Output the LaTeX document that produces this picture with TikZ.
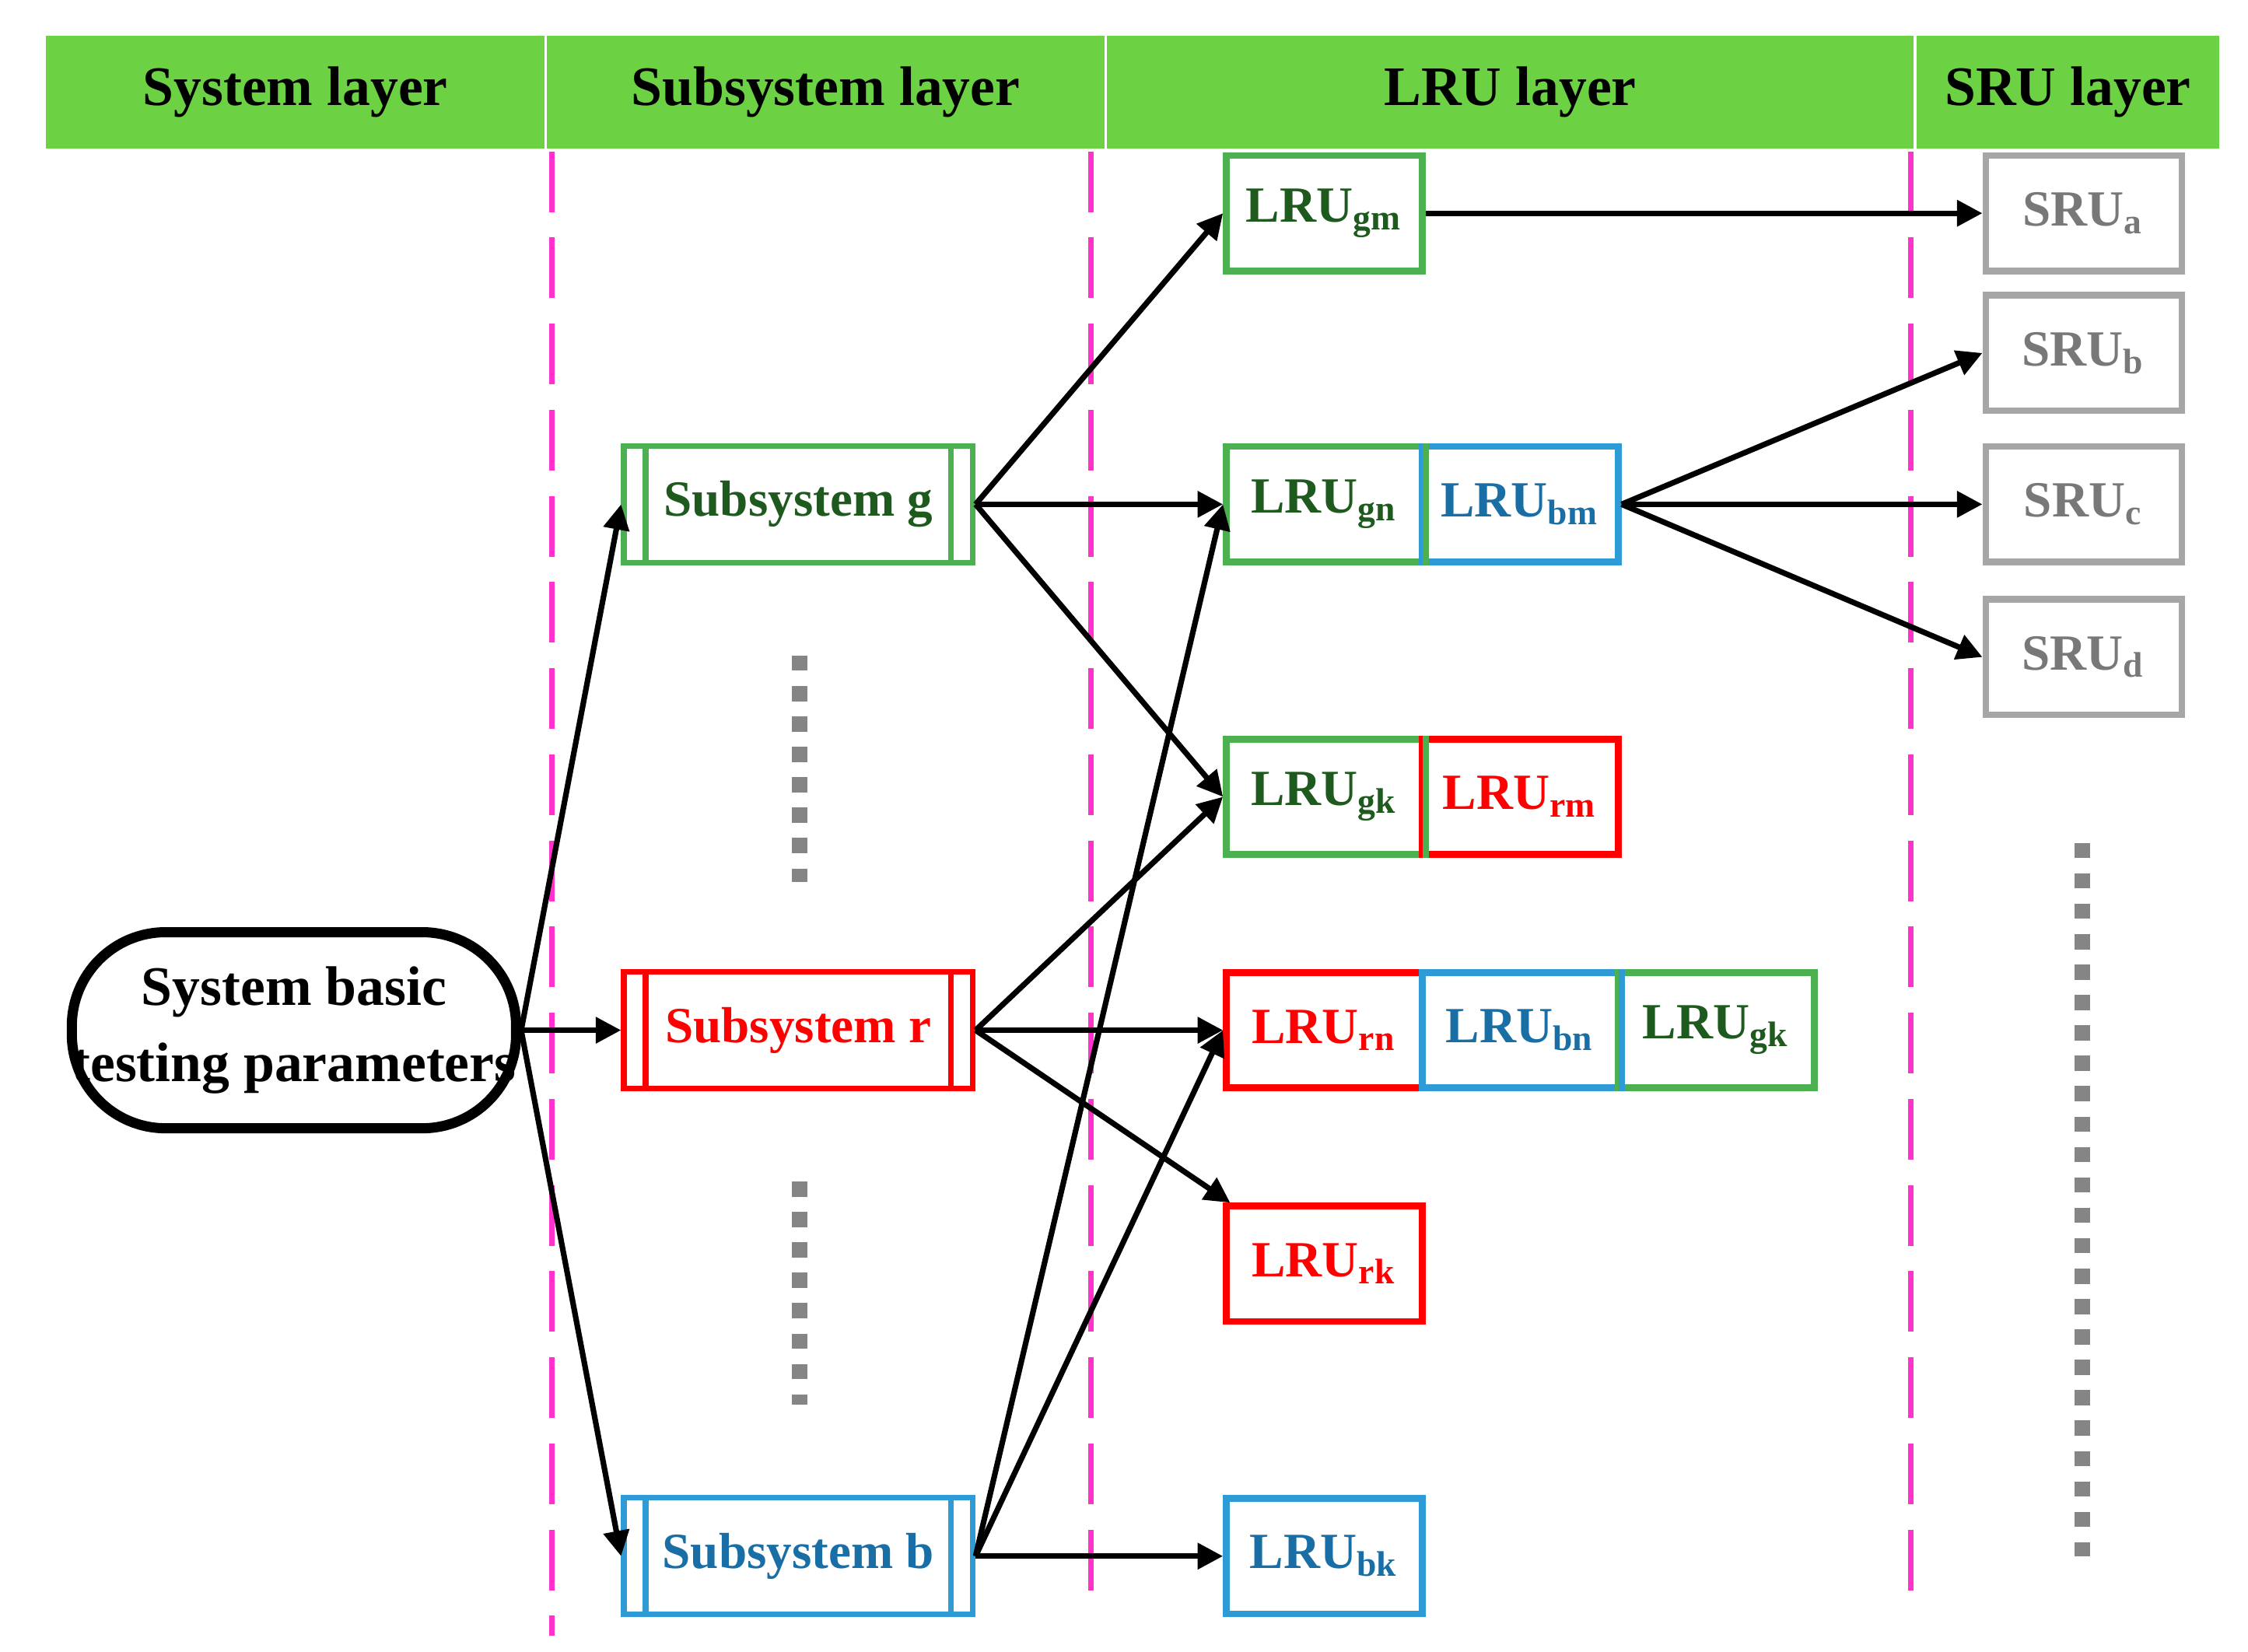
\documentclass[tikz,border=0pt]{standalone}
\usepackage{fontspec}
\setmainfont{Liberation Serif}
\usetikzlibrary{arrows.meta}
\definecolor{hdr}{RGB}{108,210,68}
\definecolor{gbox}{RGB}{76,175,80}
\definecolor{gtxt}{RGB}{30,90,30}
\definecolor{bbox}{RGB}{46,155,214}
\definecolor{btxt}{RGB}{25,110,165}
\definecolor{rbox}{RGB}{255,0,0}
\definecolor{sbox}{RGB}{166,166,166}
\definecolor{stxt}{RGB}{120,120,120}
\definecolor{mag}{RGB}{255,51,204}
\begin{document}
\begin{tikzpicture}[x=0.01cm,y=-0.01cm,
  every node/.style={font=\fontsize{10}{12}\selectfont\bfseries},
  box/.style={draw,line width=1.3pt,minimum width=1.36cm,minimum height=0.8cm,inner sep=0pt},
  sub/.style={draw,line width=1.1pt,minimum width=2.42cm,minimum height=0.81cm,inner sep=0pt},
  arr/.style={line width=1.1pt,-{Triangle[length=5pt,width=5pt]}},
  hd/.style={fill=hdr,minimum height=0.78cm,inner sep=0pt,font=\fontsize{11}{13}\selectfont\bfseries},
  magdash/.style={mag,line width=1.1pt,dash pattern=on 12pt off 5pt},
  dots/.style={sbox!80!black,line width=3pt,dash pattern=on 3pt off 3pt}]
\useasboundingbox (0,0) rectangle (1560,1146);
% header
\node[hd,minimum width=3.46cm] (h1) at (205,64) {System layer};
\node[hd,minimum width=3.87cm] (h2) at (573,64) {Subsystem layer};
\node[hd,minimum width=5.59cm] (h3) at (1048,64) {LRU layer};
\node[hd,minimum width=2.10cm] (h4) at (1435,64) {SRU layer};
% dashed dividers
\draw[magdash] (383,105) -- (383,1135);
\draw[magdash] (757,105) -- (757,1115);
\draw[magdash] (1326,105) -- (1326,1105);
% dotted
\draw[dots] (555,455) -- (555,612);
\draw[dots] (555,820) -- (555,975);
\draw[dots] (1445,585) -- (1445,1080);
% system
\node[draw,line width=2pt,rounded corners=0.65cm,minimum width=2.94cm,minimum height=1.36cm,align=center,inner sep=0pt,font=\fontsize{11}{15}\selectfont\bfseries] (sys) at (204,715) {System basic\\testing parameters};
% subsystems
\node[sub,gbox,text=gtxt] (sg) at (554,350) {Subsystem g};
\node[sub,rbox,text=rbox] (sr) at (554,715) {Subsystem r};
\node[sub,bbox,text=btxt] (sb) at (554,1080) {Subsystem b};
\foreach \n/\c in {sg/gbox,sr/rbox,sb/bbox}{
  \draw[\c,line width=1.1pt] ([xshift=0.17cm]\n.north west) -- ([xshift=0.17cm]\n.south west);
  \draw[\c,line width=1.1pt] ([xshift=-0.17cm]\n.north east) -- ([xshift=-0.17cm]\n.south east);}
% LRUs
\node[box,gbox,text=gtxt] (gm) at (919,148) {LRU\textsubscript{gm}};
\node[box,gbox,text=gtxt] (gn) at (919,350) {LRU\textsubscript{gn}};
\node[box,bbox,text=btxt] (bm) at (1055,350) {LRU\textsubscript{bm}};
\node[box,gbox,text=gtxt] (gk) at (919,553) {LRU\textsubscript{gk}};
\node[box,rbox,text=rbox] (rm) at (1055,553) {LRU\textsubscript{rm}};
\node[box,rbox,text=rbox] (rn) at (919,715) {LRU\textsubscript{rn}};
\node[box,bbox,text=btxt] (bn) at (1055,715) {LRU\textsubscript{bn}};
\node[box,gbox,text=gtxt] (gk2) at (1191,715) {LRU\textsubscript{gk}};
\node[box,rbox,text=rbox] (rk) at (919,877) {LRU\textsubscript{rk}};
\node[box,bbox,text=btxt] (bk) at (919,1080) {LRU\textsubscript{bk}};
\draw[gbox,line width=1.3pt] (gn.north east) -- (gn.south east);
\draw[gbox,line width=1.3pt] (gk.north east) -- (gk.south east);
\draw[bbox,line width=1.3pt] (bn.north east) -- (bn.south east);
% SRUs
\node[box,sbox,text=stxt] (sa) at (1446,148) {SRU\textsubscript{a}};
\node[box,sbox,text=stxt] (sbb) at (1446,245) {SRU\textsubscript{b}};
\node[box,sbox,text=stxt] (sc) at (1446,350) {SRU\textsubscript{c}};
\node[box,sbox,text=stxt] (sd) at (1446,456) {SRU\textsubscript{d}};
% arrows
\draw[arr] (sys.east) -- (sg.west);
\draw[arr] (sys.east) -- (sr.west);
\draw[arr] (sys.east) -- (sb.west);
\draw[arr] (sg.east) -- (gm.west);
\draw[arr] (sg.east) -- (gn.west);
\draw[arr] (sg.east) -- (gk.west);
\draw[arr] (sr.east) -- (gk.west);
\draw[arr] (sr.east) -- (rn.west);
\draw[arr] (sr.east) -- ([xshift=0.05cm]rk.north west);
\draw[arr] (sb.east) -- (gn.west);
\draw[arr] (sb.east) -- (rn.west);
\draw[arr] (sb.east) -- (bk.west);
\draw[arr] (gm.east) -- (sa.west);
\draw[arr] (bm.east) -- (sbb.west);
\draw[arr] (bm.east) -- (sc.west);
\draw[arr] (bm.east) -- (sd.west);
\end{tikzpicture}
\end{document}
